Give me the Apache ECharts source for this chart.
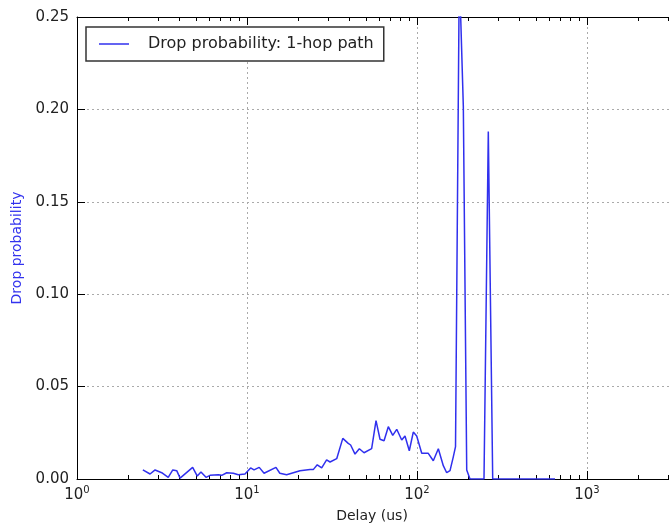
<!DOCTYPE html>
<html>
<head>
<meta charset="utf-8">
<script src="https://cdn.jsdelivr.net/npm/echarts@6/dist/echarts.min.js"></script>
<style>
  html, body { margin: 0; padding: 0; background: #fff; overflow: hidden; }
  /* the reference figure is cropped on the right, so the chart is drawn wider than the window */
  #chart { width: 760px; height: 530px; }
</style>
</head>
<body>
<div id="chart"></div>
<script>
const FONT = '"DejaVu Sans", Verdana, sans-serif';

// delay (us), log scale
const delays = [
  2.44, 2.69, 2.88, 3.15, 3.44, 3.66, 3.86, 4.04, 4.79, 5.10,
  5.36, 5.74, 6.06, 6.78, 7.10, 7.60, 8.31, 8.89, 9.73, 10.5,
  11.0, 11.8, 12.6, 14.8, 15.6, 17.1, 20.5, 23.5, 24.6, 25.9,
  27.5, 29.4, 30.8, 33.7, 36.6, 39.4, 40.7, 43.2, 45.8, 48.8,
  54.1, 57.4, 60.6, 64.0, 67.8, 72.0, 76.0, 81.3, 85.0, 90.1,
  95.1, 99.6, 106.6, 116.5, 124.7, 133.5, 142.8, 149.5, 156.4, 163.5,
  168.5, 177.4, 187.3, 196.1, 205.0, 225.4, 247.8, 262.7, 278.8, 307.7,
  352.5, 403.6, 462.2, 550.8, 648.3
];
// drop probability
const dropProb = [
  0.0049, 0.0027, 0.0049, 0.0034, 0.0009, 0.0049, 0.0045, 0.0005, 0.0063, 0.0016,
  0.0038, 0.0009, 0.0020, 0.0023, 0.0020, 0.0034, 0.0031, 0.0023, 0.0027, 0.0060,
  0.0049, 0.0063, 0.0031, 0.0063, 0.0031, 0.0023, 0.0045, 0.0052, 0.0052, 0.0077,
  0.0060, 0.0103, 0.0092, 0.0110, 0.0220, 0.0193, 0.0184, 0.0135, 0.0164, 0.0142,
  0.0164, 0.0316, 0.0215, 0.0207, 0.0283, 0.0236, 0.0269, 0.0211, 0.0233, 0.0153,
  0.0254, 0.0233, 0.0139, 0.0139, 0.0099, 0.0164, 0.0072, 0.0034, 0.0045, 0.0120,
  0.0175, 0.2750, 0.2015, 0.0049, 0.0000, 0.0000, 0.0000, 0.1880, 0.0000, 0.0000,
  0.0000, 0.0000, 0.0000, 0.0000, 0.0000
];
const yTicks = [0, 0.05, 0.10, 0.15, 0.20, 0.25];
const seriesName = 'Drop probability: 1-hop path';

const LINE = '#3030ee';
const points = delays.map((d, i) => [d, dropProb[i]]);

const chart = echarts.init(document.getElementById('chart'), null, { renderer: 'canvas' });

const xBase = {
    type: 'log',
    logBase: 10,
    min: 1,
    max: 10000,
    axisLine: { show: true, onZero: false, lineStyle: { color: '#000', width: 1 } },
    axisTick: { show: true, inside: true, length: 8, lineStyle: { color: '#000' } },
    minorTick: { show: true, splitNumber: 9, length: 4, lineStyle: { color: '#000' } },
    splitLine: { show: false },
};
const yBase = {
    type: 'value',
    min: yTicks[0],
    max: yTicks[yTicks.length - 1],
    interval: 0.05,
    axisLine: { show: true, onZero: false, lineStyle: { color: '#000', width: 1 } },
    axisTick: { show: true, inside: true, length: 8, lineStyle: { color: '#000' } },
    splitLine: { show: false },
};

chart.setOption({
    backgroundColor: '#fff',
    animation: false,
    textStyle: { fontFamily: FONT },
    grid: { left: 77, top: 17, bottom: 51, right: 3, containLabel: false, outerBoundsMode: 'none' },
    legend: {
        left: 86,
        top: 27,
        data: [seriesName],
        icon: 'rect',
        itemWidth: 30,
        itemHeight: 1.5,
        padding: [8, 10, 8, 13],
        backgroundColor: '#fff',
        borderColor: '#333',
        borderWidth: 1.5,
        borderRadius: 0,
        textStyle: { fontFamily: FONT, fontSize: 16, lineHeight: 18, color: '#222', padding: [0, 0, 0, 14] },
    },
    xAxis: [
        Object.assign({}, xBase, {
            position: 'bottom',
            name: 'Delay (us)',
            nameLocation: 'middle',
            nameGap: 30,
            nameTextStyle: { fontFamily: FONT, fontSize: 14, color: '#222', padding: [0, 90, 0, 0] },
            splitLine: { show: true, lineStyle: { color: '#aaa', type: [2, 3], width: 1 } },
            axisLabel: {
                margin: 6,
                formatter: v => '{b|10}{e|' + Math.round(Math.log10(v)) + '}',
                rich: {
                    b: { fontFamily: FONT, fontSize: 15, color: '#222', lineHeight: 20 },
                    e: { fontFamily: FONT, fontSize: 10, color: '#222', verticalAlign: 'top', lineHeight: 12 },
                },
            },
        }),
        Object.assign({}, xBase, {
            position: 'top',
            axisLabel: { show: false },
        }),
    ],
    yAxis: [
        Object.assign({}, yBase, {
            position: 'left',
            name: 'Drop probability',
            nameLocation: 'middle',
            nameGap: 52,
            nameTextStyle: { fontFamily: FONT, fontSize: 14, color: '#3333ee' },
            splitLine: { show: true, lineStyle: { color: '#aaa', type: [2, 3], width: 1 } },
            axisLabel: {
                margin: 8,
                fontFamily: FONT,
                fontSize: 15,
                color: '#222',
                formatter: v => v.toFixed(2),
            },
        }),
        Object.assign({}, yBase, {
            position: 'right',
            axisLabel: { show: false },
        }),
    ],
    series: [{
        name: seriesName,
        type: 'line',
        data: points,
        symbol: 'none',
        clip: true,
        lineStyle: { color: LINE, width: 1.5 },
        itemStyle: { color: LINE },
    }],
});
</script>
</body>
</html>
